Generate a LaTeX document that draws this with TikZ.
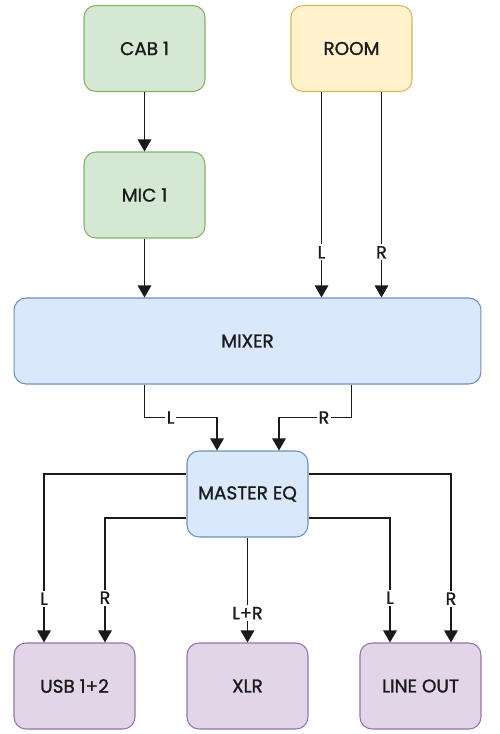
\documentclass[tikz,border=0pt]{standalone}
\usepackage{fontspec}
\setmainfont{Poppins}
\newfontfamily\boxfont{Poppins}[FakeBold=1.2]
\usetikzlibrary{arrows.meta}
\definecolor{lightG}{RGB}{213, 232, 212}
\definecolor{darkG} {RGB}{130, 179, 102}
\definecolor{lightY}{RGB}{255, 242, 204}
\definecolor{darkY} {RGB}{214, 182, 86}
\definecolor{lightB}{RGB}{218, 232, 252}
\definecolor{darkB} {RGB}{108, 142, 191}
\definecolor{lightP}{RGB}{225, 213, 231}
\definecolor{darkP} {RGB}{150, 115, 166}
\definecolor{ink}   {RGB}{26, 26, 26}

\begin{document}
\begin{tikzpicture}[x=0.02cm, y=-0.02cm,
    box/.style={draw, line width=0.6pt, rounded corners=0.24cm, minimum width=2.42cm,
      minimum height=1.72cm, text=ink, font=\boxfont\fontsize{10.5}{12}\selectfont},
    greenbox/.style={box, color=darkG, fill=lightG, text=ink},
    roombox/.style={box, color=darkY, fill=lightY, text=ink},
    bluebox/.style={box, color=darkB, fill=lightB, text=ink},
    outbox/.style={box, color=darkP, fill=lightP, text=ink},
    wire/.style={draw, color=ink, line width=0.75pt, -{Triangle[width=0.27cm, length=0.24cm]}},
    lbl/.style={fill=white, inner sep=1pt, text=ink, font=\boxfont\fontsize{10}{11}\selectfont}]
  \useasboundingbox (0,0) rectangle (500,734);

  \node[greenbox] (cab)  at (144.5, 48.5) {CAB 1};
  \node[roombox]  (room) at (351.5, 48.5) {ROOM};
  \node[greenbox] (mic)  at (144.5, 195)  {MIC 1};
  \node[bluebox, minimum width=9.34cm] (mixer) at (247.5, 341) {MIXER};
  \node[bluebox]  (eq)   at (247.5, 494)  {MASTER EQ};
  \node[outbox]   (usb)  at (74.5, 686)   {USB 1+2};
  \node[outbox]   (xlr)  at (247.5, 686)  {XLR};
  \node[outbox]   (line) at (420.5, 686)  {LINE OUT};

  % inputs into the mixer
  \draw[wire] (cab) -- (mic);
  \draw[wire] (mic) -- (mic |- mixer.north);
  \draw[wire] ([xshift=-0.6cm]room.south) -- node[lbl, pos=0.78] {L} ([xshift=-0.6cm]room.south |- mixer.north);
  \draw[wire] ([xshift=0.6cm]room.south) -- node[lbl, pos=0.78] {R} ([xshift=0.6cm]room.south |- mixer.north);

  % mixer to master eq
  \coordinate (mixL) at ([xshift=-0.61cm, yshift=0.66cm]eq.north);
  \coordinate (mixR) at ([xshift=0.63cm, yshift=0.66cm]eq.north);
  \draw[wire] (mixer.south -| mic) |- node[lbl, pos=0.68] {L} (mixL) -- (mixL |- eq.north);
  \draw[wire] (mixer.south -| room) |- node[lbl, pos=0.69] {R} (mixR) -- (mixR |- eq.north);

  % master eq to the outputs
  \draw[wire] ([yshift=0.4cm]eq.west) -| node[lbl, pos=0.87] {L} ([xshift=-0.61cm]usb.north);
  \draw[wire] ([yshift=-0.48cm]eq.west) -| node[lbl, pos=0.82] {R} ([xshift=0.61cm]usb.north);
  \draw[wire] (eq) -- node[lbl, pos=0.72] {L+R} (xlr);
  \draw[wire] ([yshift=-0.48cm]eq.east) -| node[lbl, pos=0.82] {L} ([xshift=-0.61cm]line.north);
  \draw[wire] ([yshift=0.4cm]eq.east) -| node[lbl, pos=0.87] {R} ([xshift=0.61cm]line.north);
\end{tikzpicture}
\end{document}
